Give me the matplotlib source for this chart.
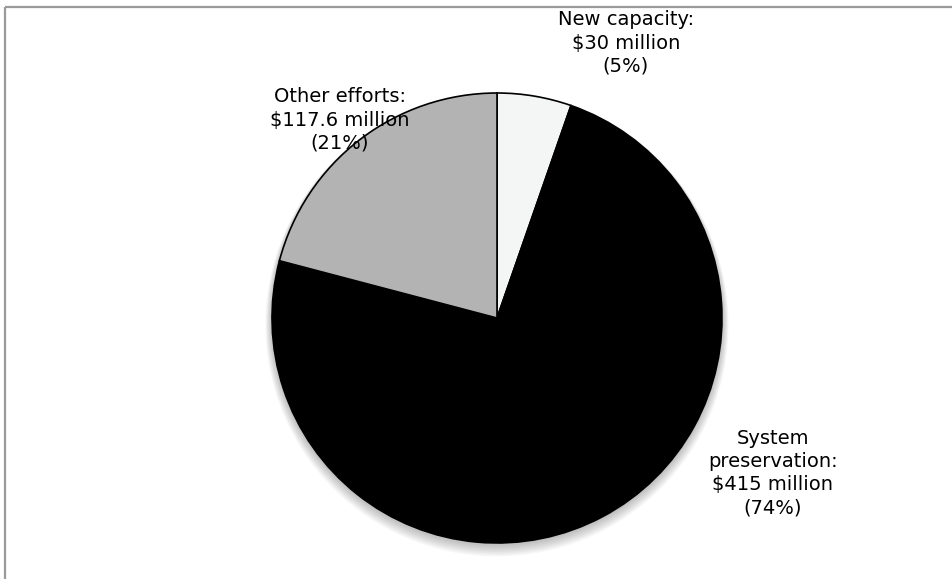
import matplotlib
matplotlib.use("Agg")
import matplotlib.pyplot as plt
from matplotlib.patches import Circle

# data
names = ["New capacity", "System\npreservation", "Other efforts"]
values = [30, 415, 117.6]
pcts = [5, 74, 21]
colors = ["#f4f6f6", "#000000", "#b2b3b2"]

W, H = 953, 579
fig = plt.figure(figsize=(W / 100, H / 100), dpi=100)
ax = fig.add_axes([0, 0, 1, 1])

cx, cy, r = 497, H - 318, 225

# soft shadow under the pie
for i in range(8):
    ax.add_patch(Circle((cx, cy - 2 - i * 0.7), r + 1 + i * 0.8, color="black",
                        alpha=0.03, lw=0, zorder=1))

ax.pie(values, colors=colors, startangle=90, counterclock=False,
       center=(cx, cy), radius=r, frame=True,
       wedgeprops=dict(edgecolor="black", linewidth=1.2, zorder=2))
ax.set_xlim(0, W)
ax.set_ylim(0, H)
ax.axis("off")

labels = [f"{n}:\n${v:g} million\n({p}%)" for n, v, p in zip(names, values, pcts)]
label_pos = [(626, H - 43), (773, H - 473), (340, H - 120)]
for txt, (x, y) in zip(labels, label_pos):
    ax.text(x, y, txt, ha="center", va="center", fontsize=14,
            family="DejaVu Sans", linespacing=1.28, zorder=5)

# frame lines (top and left)
ax.plot([5, W], [H - 7, H - 7], color="#9a9a9a", lw=1.6, solid_capstyle="butt")
ax.plot([5, 5], [0, H - 7], color="#9a9a9a", lw=1.6, solid_capstyle="butt")

fig.savefig("out.png", dpi=100)
